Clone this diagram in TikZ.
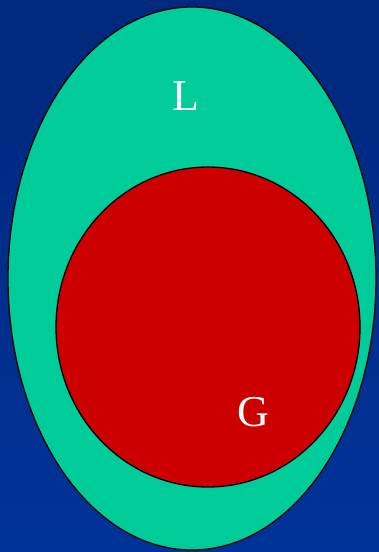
\documentclass[tikz,border=0pt]{standalone}
\usepackage{fontspec}
\setmainfont{Liberation Serif}
\usetikzlibrary{shapes.geometric}
\definecolor{bgtop}{HTML}{00287C}
\definecolor{bgbot}{HTML}{003399}
\definecolor{setgreen}{HTML}{00CC99}
\definecolor{setred}{HTML}{CC0000}
\tikzset{
  setshape/.style={ellipse, draw=black, line width=1.3pt, inner sep=0pt},
  setlabel/.style={text=white, font=\fontsize{44}{44}\selectfont}
}
\begin{document}
\begin{tikzpicture}[x=1pt, y=1pt]
  % background
  \shade[top color=bgtop, bottom color=bgbot] (0,0) rectangle (379,-552);
  \useasboundingbox (0,0) rectangle (379,-552);

  \node (lang) [setshape, fill=setgreen, minimum width=368pt, minimum height=543pt] at (192,-278.5) {};
  \node (gram) [setshape, fill=setred, minimum width=304pt, minimum height=320pt] at (208,-327) {};

  \node (llabel) [setlabel] at (186,-96) {L};
  \node (glabel) [setlabel] at (253.5,-412) {G};
\end{tikzpicture}
\end{document}
